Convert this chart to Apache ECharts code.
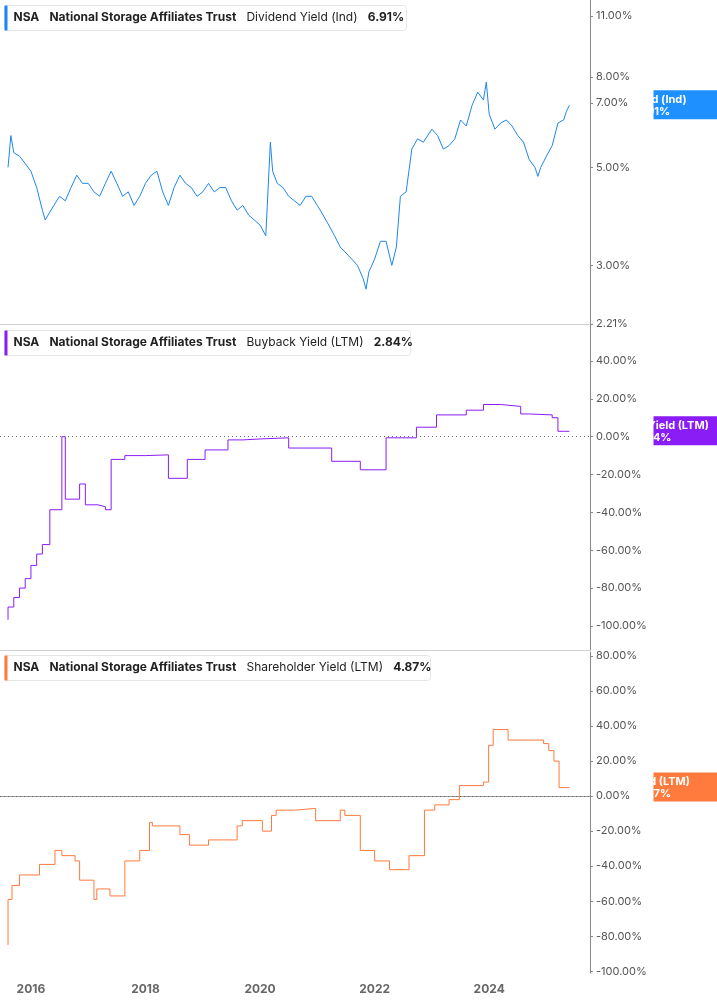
<!DOCTYPE html>
<html>
<head>
<meta charset="utf-8">
<script src="https://cdn.jsdelivr.net/npm/echarts@6/dist/echarts.min.js"></script>
<style>html,body{margin:0;padding:0;background:#fff}#chart{width:717px;height:1005px}</style>
</head>
<body>
<div id="chart"></div>
<script>
// dates as decimal years
const divDates = [2015.6,2015.65,2015.7,2015.8,2015.9,2016.0,2016.1,2016.2,2016.25,2016.3,2016.4,2016.5,2016.6,2016.7,2016.8,2016.9,2017.0,2017.1,2017.2,2017.3,2017.4,2017.5,2017.6,2017.7,2017.8,2017.9,2018.0,2018.1,2018.2,2018.3,2018.4,2018.5,2018.6,2018.7,2018.8,2018.9,2019.0,2019.1,2019.2,2019.3,2019.4,2019.5,2019.6,2019.7,2019.8,2019.9,2020.0,2020.1,2020.18,2020.22,2020.3,2020.4,2020.5,2020.6,2020.7,2020.8,2020.9,2021.0,2021.1,2021.2,2021.3,2021.4,2021.5,2021.6,2021.7,2021.8,2021.85,2021.9,2022.0,2022.1,2022.2,2022.3,2022.38,2022.45,2022.55,2022.65,2022.75,2022.85,2023.0,2023.1,2023.2,2023.3,2023.4,2023.5,2023.6,2023.7,2023.8,2023.9,2023.95,2024.0,2024.1,2024.2,2024.3,2024.4,2024.5,2024.6,2024.7,2024.8,2024.85,2024.9,2025.0,2025.1,2025.2,2025.3,2025.35,2025.4];
const divYield = [5.0,5.9,5.4,5.3,5.1,4.9,4.5,4.0,3.8,3.9,4.1,4.3,4.2,4.5,4.8,4.6,4.6,4.4,4.3,4.6,4.9,4.6,4.3,4.4,4.1,4.3,4.6,4.8,4.9,4.4,4.1,4.5,4.8,4.6,4.5,4.3,4.4,4.6,4.4,4.5,4.5,4.2,4.0,4.1,3.9,3.8,3.7,3.5,5.7,4.9,4.6,4.5,4.3,4.2,4.1,4.3,4.3,4.1,3.9,3.7,3.5,3.3,3.2,3.1,3.0,2.8,2.65,2.9,3.1,3.4,3.4,3.0,3.3,4.3,4.4,5.5,5.8,5.7,6.1,5.9,5.5,5.6,5.8,6.4,6.2,6.9,7.4,7.1,7.8,6.6,6.1,6.3,6.4,6.2,5.9,5.7,5.2,5.0,4.77,5.0,5.3,5.6,6.3,6.4,6.7,6.91];

const bbDates = [2015.6,2015.7,2015.8,2015.9,2016.0,2016.1,2016.2,2016.33,2016.54,2016.6,2016.85,2016.95,2017.17,2017.3,2017.4,2017.64,2018.0,2018.4,2018.73,2019.04,2019.44,2019.7,2020.0,2020.5,2021.25,2021.75,2022.2,2022.73,2023.08,2023.6,2023.9,2024.2,2024.55,2024.7,2025.1,2025.2,2025.3,2025.4];
const buyback = [-96.7,-90,-85,-80,-75,-68,-62,-57,-38.6,0,-33,-25,-36,-37,-38.6,-12,-10,-9.6,-22,-12,-7,-1.7,-1.2,-0.6,-6,-13,-17.5,-0.6,5,11.5,14,17,16,12,11.5,10,2.84,2.84];

const shDates = [2015.6,2015.67,2015.8,2016.15,2016.42,2016.54,2016.77,2016.85,2017.1,2017.15,2017.38,2017.64,2017.9,2018.07,2018.12,2018.6,2018.77,2019.1,2019.6,2019.69,2020.04,2020.2,2020.28,2020.62,2020.97,2021.0,2021.4,2021.48,2021.75,2022.0,2022.26,2022.6,2022.87,2023.05,2023.3,2023.48,2023.55,2023.9,2023.99,2024.07,2024.33,2024.68,2024.95,2025.04,2025.13,2025.22,2025.3,2025.4];
const shYield = [-85,-59,-51,-45,-39,-31,-34,-37,-48,-59,-53,-57,-37,-31,-15,-17,-22,-28,-25,-17,-14,-20,-11,-8,-7,-14,-14,-8,-11,-31,-37,-42,-34,-8,-5,-2,6,6,8,29,38,32,32,30,26,20,4.87,4.87];

const yearTicks = [2016,2018,2020,2022,2024];
const divTicks = [2.21,3,5,7,8,11];
const bbTicks = [-100,-80,-60,-40,-20,0,20,40];
const shTicks = [-100,-80,-60,-40,-20,0,20,40,60,80];

const chart = echarts.init(document.getElementById('chart'));
const grids = [
  { left: 0, right: 127, top: 0, height: 324 },
  { left: 0, right: 127, top: 325, height: 325 },
  { left: 0, right: 127, top: 652, height: 321 }
];
const lblStyle = { color: '#555', fontSize: 11, fontFamily: 'Inter, sans-serif', margin: 6 };
function xAx(i, show) {
  return {
    type: 'value', gridIndex: i, min: 2015.46, max: 2025.76,
    axisLine: { show: i === 2, lineStyle: { color: '#999' } },
    axisTick: { show: false }, splitLine: { show: false },
    axisLabel: show ? { customValues: yearTicks, color: '#666', fontWeight: 'bold', fontSize: 12, fontFamily: 'Inter, sans-serif', formatter: v => String(v), margin: 10 } : { show: false }
  };
}
function yAx(i, extra, ticks) {
  return Object.assign({
    gridIndex: i, position: 'right',
    axisLine: { show: true, lineStyle: { color: '#888' } },
    axisTick: { show: true, customValues: ticks, length: 3, lineStyle: { color: '#888' } },
    splitLine: { show: false },
    axisLabel: Object.assign({ customValues: ticks, formatter: v => v.toFixed(2) + '%' }, lblStyle)
  }, extra);
}
const zero = { silent: true, symbol: 'none', label: { show: false }, lineStyle: { type: [1, 3], color: '#666', width: 1 }, data: [{ yAxis: 0 }] };
function pairs(d, v) { return d.map((x, i) => [x, v[i]]); }

function legend(y, color, rest, w) {
  return {
    type: 'group', left: 4, top: y, children: [
      { type: 'rect', shape: { x: 0, y: 0, width: w, height: 25, r: 3 }, style: { fill: '#fff', stroke: '#e6e6e6' } },
      { type: 'rect', shape: { x: 0, y: 0, width: 3, height: 25 }, style: { fill: color } },
      { type: 'text', x: 9, y: 6, style: {
        text: '{b|NSA}   {b|National Storage Affiliates Trust}   ' + rest,
        rich: { b: { fontWeight: 'bold', fontSize: 12, fill: '#222', fontFamily: 'Inter, sans-serif' },
                n: { fontSize: 12, fill: '#222', fontFamily: 'Inter, sans-serif' } },
        fontSize: 12, fill: '#222', fontFamily: 'Inter, sans-serif' } }
    ]
  };
}

chart.setOption({
  animation: false,
  grid: grids,
  xAxis: [xAx(0, false), xAx(1, false), xAx(2, true)],
  yAxis: [
    yAx(0, { type: 'log', min: 2.21, max: 11.96, logBase: 10 }, divTicks),
    yAx(1, { type: 'value', min: -112.7, max: 59 }, bbTicks),
    yAx(2, { type: 'value', min: -101, max: 82.3 }, shTicks)
  ],
  series: [
    { type: 'line', xAxisIndex: 0, yAxisIndex: 0, data: pairs(divDates, divYield), showSymbol: false, lineStyle: { color: '#1e86f0', width: 1 } },
    { type: 'line', step: 'start', xAxisIndex: 1, yAxisIndex: 1, data: pairs(bbDates, buyback), showSymbol: false, lineStyle: { color: '#8a1cf5', width: 1 }, markLine: zero },
    { type: 'line', step: 'start', xAxisIndex: 2, yAxisIndex: 2, data: pairs(shDates, shYield), showSymbol: false, lineStyle: { color: '#ff7a3d', width: 1 }, markLine: zero }
  ]
});

const sep = (y) => ({ type: 'line', shape: { x1: 0, y1: y, x2: 590, y2: y }, style: { stroke: '#d0d0d0', lineWidth: 1 } });
function badge(gi, val, color, text) {
  const y = chart.convertToPixel({ yAxisIndex: gi }, val);
  return {
    type: 'group', left: 590, top: y - 15, children: [
      { type: 'rect', shape: { x: 0, y: 0, width: 127, height: 29 }, style: { fill: color } },
      { type: 'text', x: 0, y: 3, style: { text: text, fill: '#fff', fontWeight: 'bold', fontSize: 11, width: 127, align: 'center', lineHeight: 12, fontFamily: 'Inter, sans-serif' } }
    ]
  };
}
chart.setOption({
  graphic: [
    sep(324.5), sep(650.5),
    legend(5, '#1e86f0', '{n|Dividend Yield (Ind)}   {b|6.91%}', 402),
    legend(330, '#8a1cf5', '{n|Buyback Yield (LTM)}   {b|2.84%}', 406),
    legend(655, '#ff7a3d', '{n|Shareholder Yield (LTM)}   {b|4.87%}', 426),
    badge(0, 6.91, '#1e90ff', 'Div Yld (Ind)\n6.91%'),
    badge(1, 2.84, '#8a1cf5', 'Buyback Yield (LTM)\n2.84%'),
    badge(2, 4.87, '#ff7a3d', 'Shr Yld (LTM)\n4.87%')
  ]
});
</script>
</body>
</html>
